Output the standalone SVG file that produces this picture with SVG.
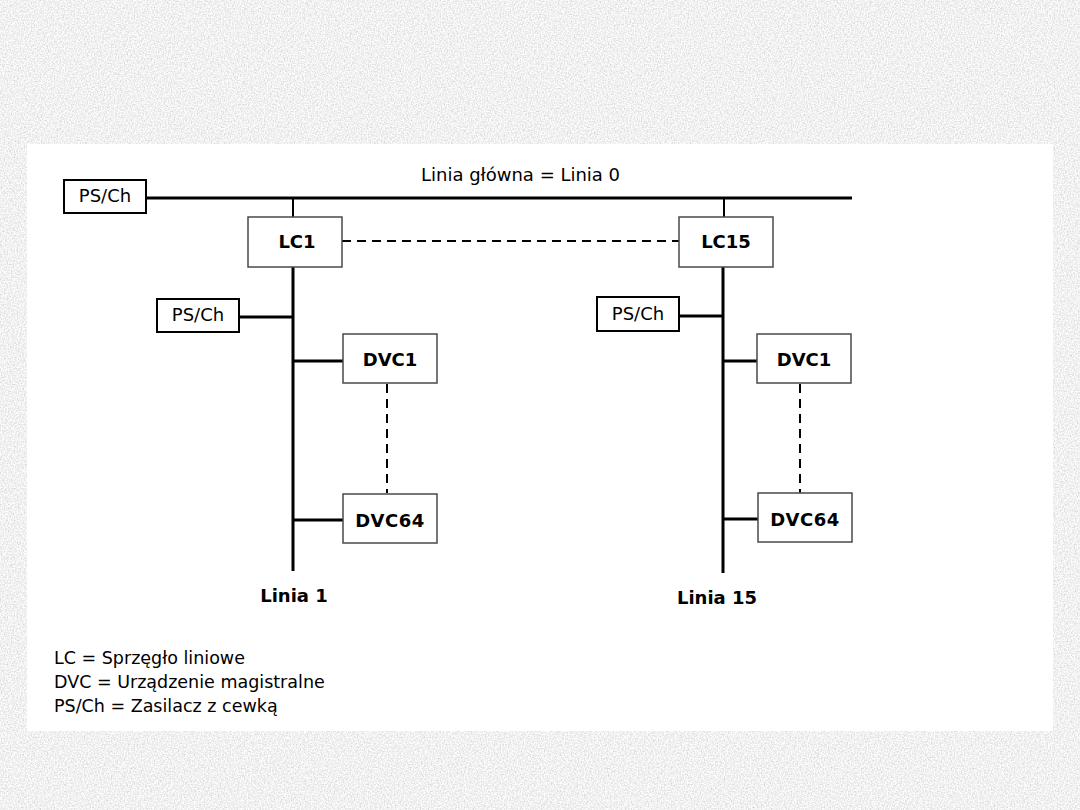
<svg xmlns="http://www.w3.org/2000/svg" width="1080" height="810" viewBox="0 0 1080 810">
<defs>
<filter id="tex" x="0" y="0" width="100%" height="100%">
<feTurbulence type="fractalNoise" baseFrequency="0.7" numOctaves="2" seed="3"/>
<feColorMatrix type="matrix" values="0.6 0 0 0 0.58  0.6 0 0 0 0.58  0.6 0 0 0 0.58  0 0 0 0 1"/>
</filter>
<style>
.bus{stroke:#000;stroke-width:3;fill:none}
.thin{stroke:#000;stroke-width:2;fill:none}
.dash{stroke:#000;stroke-width:2;fill:none;stroke-dasharray:9 6}
.ps{fill:#fff;stroke:#000;stroke-width:2}
.box{fill:#fff;stroke:#4a4a4a;stroke-width:1.5}
.t{font-family:"DejaVu Sans",Verdana,sans-serif;font-size:18px;fill:#000}
.b{font-family:"DejaVu Sans",Verdana,sans-serif;font-size:18px;font-weight:bold;fill:#000}
.lg{font-family:"DejaVu Sans",Verdana,sans-serif;font-size:17.5px;fill:#000}
</style>
</defs>
<rect width="1080" height="810" fill="#e0e0e0"/>
<rect width="1080" height="810" filter="url(#tex)"/>
<rect x="27" y="144" width="1026" height="587" fill="#fff"/>

<text class="t" x="421" y="181">Linia główna = Linia 0</text>

<g id="connectors">
<line class="bus" x1="146" y1="198" x2="852" y2="198"/>
<line class="thin" x1="293" y1="198" x2="293" y2="217"/>
<line class="thin" x1="724" y1="198" x2="724" y2="217"/>
<line class="dash" x1="342" y1="241" x2="679" y2="241"/>
<line class="bus" x1="293" y1="267" x2="293" y2="571"/>
<line class="bus" x1="723" y1="267" x2="723" y2="573"/>
<line class="bus" x1="239" y1="317" x2="293" y2="317"/>
<line class="bus" x1="679" y1="316" x2="723" y2="316"/>
<line class="bus" x1="293" y1="361" x2="343" y2="361"/>
<line class="bus" x1="293" y1="520" x2="343" y2="520"/>
<line class="bus" x1="723" y1="361" x2="757" y2="361"/>
<line class="bus" x1="723" y1="519" x2="758" y2="519"/>
<line class="dash" x1="387" y1="384" x2="387" y2="493"/>
<line class="dash" x1="800" y1="384" x2="800" y2="493"/>
</g>

<g id="ps0"><rect class="ps" x="64" y="180" width="82" height="33"/><text class="t" x="105" y="202" text-anchor="middle">PS/Ch</text></g>
<g id="lc1"><rect class="box" x="248" y="217" width="94" height="50"/><text class="b" x="297" y="248" text-anchor="middle">LC1</text></g>
<g id="lc15"><rect class="box" x="679" y="217" width="94" height="50"/><text class="b" x="726" y="248" text-anchor="middle">LC15</text></g>
<g id="ps1"><rect class="ps" x="157" y="299" width="82" height="33"/><text class="t" x="198" y="321" text-anchor="middle">PS/Ch</text></g>
<g id="ps15"><rect class="ps" x="597" y="297" width="82" height="34"/><text class="t" x="638" y="320" text-anchor="middle">PS/Ch</text></g>
<g id="dvc1a"><rect class="box" x="343" y="334" width="94" height="49"/><text class="b" x="390" y="366" text-anchor="middle">DVC1</text></g>
<g id="dvc64a"><rect class="box" x="343" y="494" width="94" height="49"/><text class="b" x="390" y="527" text-anchor="middle" letter-spacing="0.5">DVC64</text></g>
<g id="dvc1b"><rect class="box" x="757" y="334" width="94" height="49"/><text class="b" x="804" y="366" text-anchor="middle">DVC1</text></g>
<g id="dvc64b"><rect class="box" x="758" y="493" width="94" height="49"/><text class="b" x="805" y="526" text-anchor="middle" letter-spacing="0.5">DVC64</text></g>

<g id="labels">
<text class="b" x="294" y="602" text-anchor="middle">Linia 1</text>
<text class="b" x="717" y="604" text-anchor="middle">Linia 15</text>
</g>

<g id="legend">
<text class="lg" x="54" y="664">LC = Sprzęgło liniowe</text>
<text class="lg" x="54" y="688">DVC = Urządzenie magistralne</text>
<text class="lg" x="54" y="712">PS/Ch = Zasilacz z cewką</text>
</g>
</svg>
